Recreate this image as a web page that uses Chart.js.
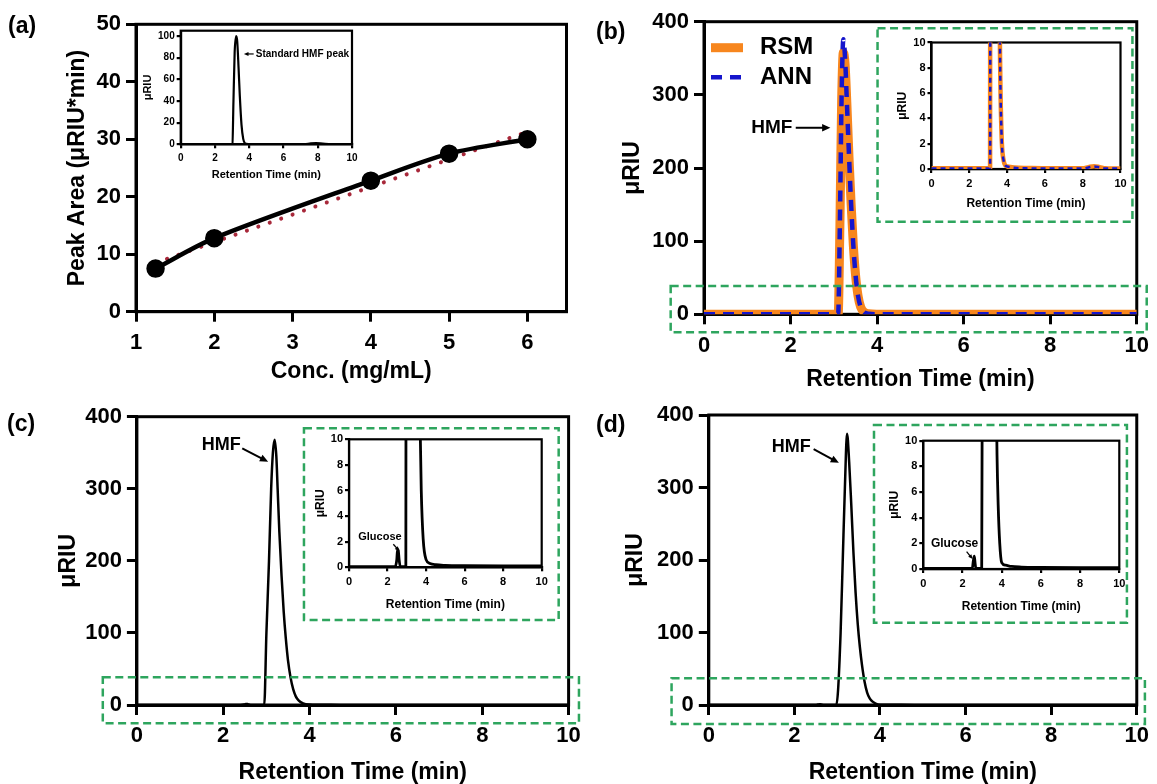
<!DOCTYPE html>
<html>
<head>
<meta charset="utf-8">
<title>HMF calibration and chromatograms</title>
<script src="https://cdn.jsdelivr.net/npm/chart.js@4.4.1/dist/chart.umd.min.js"></script>
<style>
  body { margin: 0; background: #fff; }
  #wrap { position: relative; width: 1157px; height: 784px; overflow: hidden; }
  canvas { position: absolute; }
  .tag { position: absolute; font: bold 23px 'Liberation Sans', Arial, sans-serif; line-height: 26px; color: #000; }
</style>
</head>
<body>
<div id="wrap">
  <canvas id="mainA"></canvas>
  <canvas id="mainB"></canvas>
  <canvas id="mainC"></canvas>
  <canvas id="mainD"></canvas>
  <canvas id="insetA"></canvas>
  <canvas id="insetB"></canvas>
  <canvas id="insetC"></canvas>
  <canvas id="insetD"></canvas>
  <div class="tag" style="left:8px;top:12px">(a)</div>
  <div class="tag" style="left:596px;top:18px">(b)</div>
  <div class="tag" style="left:7px;top:410px">(c)</div>
  <div class="tag" style="left:596px;top:411px">(d)</div>
</div>
<script>
// (a) calibration: peak area vs concentration
const concLevels = [1.25, 2, 4, 5, 6];
const peakArea = [7.5, 12.8, 22.8, 27.5, 30.0];
const fitConc = [1.25, 6];
const fitArea = [8.5, 31.3];

// (a) inset: standard HMF chromatogram
const stdTime = [0, 2.95, 3.02, 3.08, 3.15, 3.24, 3.3, 3.38, 3.45, 3.55, 3.65, 3.75, 3.9, 5, 7.2, 7.6, 7.9, 8.3, 8.8, 10];
const stdRIU = [0, 0, 0.5, 40, 85, 100, 95, 70, 45, 18, 5, 1, 0.3, 0.2, 0.2, 0.8, 1, 0.6, 0.2, 0.1];

// (b) RSM vs ANN optimum
const rtB = [0, 3.0, 3.1, 3.14, 3.18, 3.22, 3.26, 3.3, 3.35, 3.4, 3.45, 3.5, 3.56, 3.62, 3.7, 3.8, 4.0, 5, 6, 7, 8, 8.3, 8.6, 8.9, 9.2, 9.5, 10];
const rsmRIU = [0.05, 0.05, 0.1, 120, 290, 358, 342, 290, 215, 150, 95, 55, 25, 10, 3, 0.8, 0.2, 0.08, 0.06, 0.06, 0.06, 0.15, 0.22, 0.15, 0.06, 0.04, 0.04];
const annRIU = [0.03, 0.03, 0.1, 125, 300, 376, 350, 292, 218, 150, 95, 55, 25, 10, 3, 0.8, 0.2, 0.05, 0.04, 0.04, 0.04, 0.12, 0.2, 0.12, 0.04, 0.03, 0.03];

// (c)
const rtC = [0, 2.4, 2.48, 2.52, 2.56, 2.6, 2.66, 2.9, 2.95, 3.0, 3.06, 3.11, 3.15, 3.19, 3.23, 3.26, 3.3, 3.35, 3.4, 3.45, 3.5, 3.56, 3.62, 3.68, 3.75, 3.85, 4.0, 4.2, 4.5, 5, 6, 8, 10];
const riuC = [0.05, 0.05, 0.6, 1.4, 1.3, 0.6, 0.05, 0.05, 0.1, 100, 200, 300, 350, 368, 345, 300, 240, 180, 130, 92, 62, 38, 22, 12, 6, 2.2, 0.6, 0.3, 0.2, 0.15, 0.12, 0.1, 0.1];

// (d)
const rtD = [0, 2.5, 2.55, 2.6, 2.64, 2.68, 2.98, 3.02, 3.08, 3.13, 3.18, 3.23, 3.28, 3.33, 3.38, 3.43, 3.48, 3.53, 3.58, 3.64, 3.7, 3.76, 3.82, 3.9, 4.0, 4.2, 4.5, 5, 6, 8, 10];
const riuD = [0.05, 0.05, 0.6, 1.0, 0.5, 0.05, 0.05, 20, 100, 200, 300, 374, 335, 275, 210, 155, 112, 80, 55, 32, 17, 9, 5, 2, 0.5, 0.3, 0.2, 0.15, 0.12, 0.1, 0.1];

// tick labels
const concTicks = [1, 2, 3, 4, 5, 6];
const areaTicks = [0, 10, 20, 30, 40, 50];
const rtTicks = [0, 2, 4, 6, 8, 10];
const riuTicks = [0, 100, 200, 300, 400];
const zoomTicks = [0, 2, 4, 6, 8, 10];
const stdTicks = [0, 20, 40, 60, 80, 100];

const GREEN = '#2ea55e';
const ORANGE = '#f7861e';
const BLUE = '#1515cc';
const FONT = "'Liberation Sans', Arial, sans-serif";

Chart.defaults.font.family = FONT;
Chart.defaults.font.weight = 'bold';
Chart.defaults.color = '#000';

const pts = (xs, ys) => xs.map((v, i) => ({x: v, y: ys[i]}));

// box around the plot area
const framePlugin = {
    id: 'frame',
    beforeDatasetsDraw(chart, args, opts) {
        const {ctx, chartArea: a} = chart;
        ctx.save();
        ctx.strokeStyle = '#000';
        ctx.lineWidth = opts.width;
        ctx.strokeRect(a.left, a.top, a.right - a.left, a.bottom - a.top);
        ctx.restore();
    }
};

// dashed zoom boxes, labels and arrows, placed in data units
const notesPlugin = {
    id: 'notes',
    afterDraw(chart, args, opts) {
        const {ctx, scales: {x, y}} = chart;
        ctx.save();
        (opts.boxes || []).forEach(b => {
            const x0 = x.getPixelForValue(b[0]), x1 = x.getPixelForValue(b[1]);
            const y0 = y.getPixelForValue(b[2]), y1 = y.getPixelForValue(b[3]);
            ctx.strokeStyle = GREEN;
            ctx.lineWidth = 2.5;
            ctx.setLineDash([8, 4.5]);
            ctx.strokeRect(x0, y0, x1 - x0, y1 - y0);
        });
        ctx.setLineDash([]);
        (opts.labels || []).forEach(l => {
            ctx.font = 'bold ' + l.size + 'px ' + FONT;
            ctx.fillStyle = '#000';
            ctx.textAlign = 'left';
            ctx.textBaseline = 'middle';
            ctx.fillText(l.text, x.getPixelForValue(l.x), y.getPixelForValue(l.y));
        });
        (opts.arrows || []).forEach(a => {
            const x0 = x.getPixelForValue(a.from[0]), y0 = y.getPixelForValue(a.from[1]);
            const x1 = x.getPixelForValue(a.to[0]), y1 = y.getPixelForValue(a.to[1]);
            const ang = Math.atan2(y1 - y0, x1 - x0);
            ctx.strokeStyle = '#000';
            ctx.fillStyle = '#000';
            ctx.lineWidth = a.w;
            ctx.beginPath();
            ctx.moveTo(x0, y0);
            ctx.lineTo(x1 - Math.cos(ang) * a.head * 0.7, y1 - Math.sin(ang) * a.head * 0.7);
            ctx.stroke();
            ctx.beginPath();
            ctx.moveTo(x1, y1);
            ctx.lineTo(x1 - a.head * Math.cos(ang - 0.42), y1 - a.head * Math.sin(ang - 0.42));
            ctx.lineTo(x1 - a.head * Math.cos(ang + 0.42), y1 - a.head * Math.sin(ang + 0.42));
            ctx.closePath();
            ctx.fill();
        });
        ctx.restore();
    }
};

// legend drawn inside the plot, from the dataset styles
const lineLegend = {
    id: 'lineLegend',
    afterDatasetsDraw(chart, args, opts) {
        if (!opts.display) return;
        const {ctx, chartArea: a} = chart;
        chart.data.datasets.forEach((ds, i) => {
            const yy = a.top + opts.top + i * opts.gap;
            const x0 = a.left + opts.left;
            ctx.save();
            ctx.strokeStyle = ds.borderColor;
            ctx.lineWidth = ds.borderWidth;
            ctx.setLineDash(ds.borderDash || []);
            ctx.beginPath();
            ctx.moveTo(x0, yy);
            ctx.lineTo(x0 + opts.len, yy);
            ctx.stroke();
            ctx.setLineDash([]);
            ctx.fillStyle = '#000';
            ctx.font = 'bold ' + opts.size + 'px ' + FONT;
            ctx.textBaseline = 'middle';
            ctx.fillText(ds.label, x0 + opts.len + opts.pad, yy);
            ctx.restore();
        });
    }
};

const MAIN = {lw: 3, tl: 10, tick: 22, title: 23, xlPad: 8, ylPad: 5};
const INSET = {lw: 2.2, tl: 4, tick: 11, title: 12, xlPad: 4, ylPad: 2};

function build(id, box, plot, st, s) {
    const cv = document.getElementById(id);
    cv.width = box[2] - box[0];
    cv.height = box[3] - box[1];
    cv.style.left = box[0] + 'px';
    cv.style.top = box[1] + 'px';
    const yW = plot[0] - box[0], xH = box[3] - plot[3];
    const tickSize = s.tick || st.tick, titleSize = s.title || st.title;
    const axis = (vals, lim, fit, title, tpad, lpad) => ({
        type: 'linear', min: lim[0], max: lim[1],
        afterFit: fit,
        afterBuildTicks: sc => { sc.ticks = vals.map(v => ({value: v})); },
        border: {color: '#000', width: st.lw},
        grid: {drawOnChartArea: false, color: '#000', lineWidth: st.lw, tickLength: st.tl},
        ticks: {autoSkip: false, maxRotation: 0, padding: lpad, color: '#000', font: {size: tickSize, weight: 'bold'}},
        title: {display: true, text: title, color: '#000', font: {size: titleSize, weight: 'bold', lineHeight: 1}, padding: tpad}
    });
    return new Chart(cv, {
        type: 'line',
        data: {datasets: s.datasets},
        options: {
            responsive: false,
            animation: false,
            layout: {padding: {left: 0, bottom: 0, top: plot[1] - box[1], right: box[2] - plot[2]}},
            plugins: {
                legend: {display: false},
                tooltip: {enabled: false},
                frame: {width: st.lw},
                notes: s.notes || {},
                lineLegend: s.legend || {display: false}
            },
            scales: {
                x: axis(s.xTicks, s.x, sc => { sc.height = xH; }, s.xTitle, {top: 0, bottom: s.xtPad}, st.xlPad),
                y: axis(s.yTicks, s.y, sc => { sc.width = yW; }, s.yTitle, {top: s.ytPad, bottom: 0}, st.ylPad)
            }
        },
        plugins: [framePlugin, notesPlugin, lineLegend]
    });
}

const black = (xs, ys, w) => ({data: pts(xs, ys), borderColor: '#000', borderWidth: w, pointRadius: 0, cubicInterpolationMode: 'monotone'});

// ---- (a) ----
build('mainA', [0, 0, 578, 392], [136, 24.3, 568, 311.7], MAIN, {
    x: [1, 6.5], y: [0, 50], xTicks: concTicks, yTicks: areaTicks,
    xTitle: 'Conc. (mg/mL)', yTitle: 'Peak Area (\u03bcRIU*min)', xtPad: 8.5, ytPad: 66.5,
    datasets: [
        {data: pts(concLevels, peakArea), borderColor: '#000', backgroundColor: '#000', borderWidth: 4.5,
         pointRadius: 7, tension: 0.3},
        {data: pts(fitConc, fitArea), borderColor: '#a8283a', borderWidth: 4, borderDash: [0.1, 12],
         borderCapStyle: 'round', pointRadius: 0}
    ]
});
build('insetA', [120, 20, 362, 190], [180.7, 30.7, 352, 144.3], INSET, {
    tick: 10, title: 11,
    x: [0, 10], y: [0, 105], xTicks: rtTicks, yTicks: stdTicks,
    xTitle: 'Retention Time (min)', yTitle: '\u03bcRIU', xtPad: 9.5, ytPad: 22.5,
    datasets: [black(stdTime, stdRIU, 2.2)],
    notes: {
        labels: [{text: 'Standard HMF peak', x: 4.38, y: 83.5, size: 10}],
        arrows: [{from: [4.26, 83.5], to: [3.69, 83.5], w: 1.2, head: 5}]
    }
});

// ---- (b) ----
build('mainB', [580, 0, 1157, 392], [704, 21.7, 1143, 314.3], MAIN, {
    x: [0, 10], y: [0, 400], xTicks: rtTicks, yTicks: riuTicks,
    xTitle: 'Retention Time (min)', yTitle: '\u03bcRIU', xtPad: 0.5, ytPad: 41.5,
    datasets: [
        {label: 'RSM', order: 1, data: pts(rtB, rsmRIU), borderColor: ORANGE, borderWidth: 9, pointRadius: 0, cubicInterpolationMode: 'monotone'},
        {label: 'ANN', order: 0, data: pts(rtB, annRIU), borderColor: BLUE, borderWidth: 4.5, borderDash: [11, 8], pointRadius: 0, cubicInterpolationMode: 'monotone'}
    ],
    legend: {display: true, left: 7, top: 26, gap: 29.6, len: 32, pad: 17, size: 24},
    notes: {
        boxes: [[4.01, 9.9, 391, 126.6], [-0.77, 10.23, 38.7, -24.6]],
        labels: [{text: 'HMF', x: 1.09, y: 255, size: 19}],
        arrows: [{from: [2.12, 255], to: [2.92, 255], w: 2, head: 9}]
    }
});
build('insetB', [885, 32, 1132, 216], [931.5, 42.5, 1120.5, 169], INSET, {
    x: [0, 10], y: [0, 10], xTicks: zoomTicks, yTicks: zoomTicks,
    xTitle: 'Retention Time (min)', yTitle: '\u03bcRIU', xtPad: 6, ytPad: 11.7,
    datasets: [
        {order: 1, data: pts(rtB, rsmRIU), borderColor: ORANGE, borderWidth: 4.5, pointRadius: 0, cubicInterpolationMode: 'monotone'},
        {order: 0, data: pts(rtB, annRIU), borderColor: BLUE, borderWidth: 2.5, borderDash: [5, 4], pointRadius: 0, cubicInterpolationMode: 'monotone'}
    ]
});

// ---- (c) ----
build('mainC', [0, 392, 590, 784], [136.9, 416.7, 568.6, 705], MAIN, {
    x: [0, 10], y: [0, 400], xTicks: rtTicks, yTicks: riuTicks,
    xTitle: 'Retention Time (min)', yTitle: '\u03bcRIU', xtPad: 0, ytPad: 56.9,
    datasets: [black(rtC, riuC, 2.5)],
    notes: {
        boxes: [[3.87, 9.77, 383.9, 117.9], [-0.79, 10.24, 38.4, -25.4]],
        labels: [{text: 'HMF', x: 1.5, y: 360.7, size: 18}],
        arrows: [{from: [2.44, 356], to: [3.04, 337.5], w: 2, head: 9}]
    }
});
build('insetC', [305, 430, 552, 616], [349, 439.3, 541.7, 567.3], INSET, {
    x: [0, 10], y: [0, 10], xTicks: zoomTicks, yTicks: zoomTicks,
    xTitle: 'Retention Time (min)', yTitle: '\u03bcRIU', xtPad: 5.7, ytPad: 9.7,
    datasets: [black(rtC, riuC, 2.8)],
    notes: {
        labels: [{text: 'Glucose', x: 0.48, y: 2.39, size: 11}],
        arrows: [{from: [2.3, 1.8], to: [2.61, 1.27], w: 1.3, head: 5}]
    }
});

// ---- (d) ----
build('mainD', [580, 392, 1157, 784], [708.8, 415, 1144.9, 705], MAIN, {
    x: [0, 10], y: [0, 400], xTicks: rtTicks, yTicks: riuTicks,
    xTitle: 'Retention Time (min)', yTitle: '\u03bcRIU', xtPad: 0, ytPad: 43.7,
    datasets: [black(rtD, riuD, 2.5)],
    notes: {
        boxes: [[3.86, 9.77, 386.2, 113.5], [-0.87, 10.19, 36.8, -26.2]],
        labels: [{text: 'HMF', x: 1.47, y: 356.3, size: 18}],
        arrows: [{from: [2.45, 353], to: [3.04, 334], w: 2, head: 9}]
    }
});
build('insetD', [878, 430, 1130, 620], [923.3, 440.7, 1119.3, 569], INSET, {
    x: [0, 10], y: [0, 10], xTicks: zoomTicks, yTicks: zoomTicks,
    xTitle: 'Retention Time (min)', yTitle: '\u03bcRIU', xtPad: 7.3, ytPad: 11,
    datasets: [black(rtD, riuD, 2.8)],
    notes: {
        labels: [{text: 'Glucose', x: 0.39, y: 1.99, size: 12}],
        arrows: [{from: [2.21, 1.35], to: [2.52, 0.78], w: 1.3, head: 5}]
    }
});
</script>
</body>
</html>
